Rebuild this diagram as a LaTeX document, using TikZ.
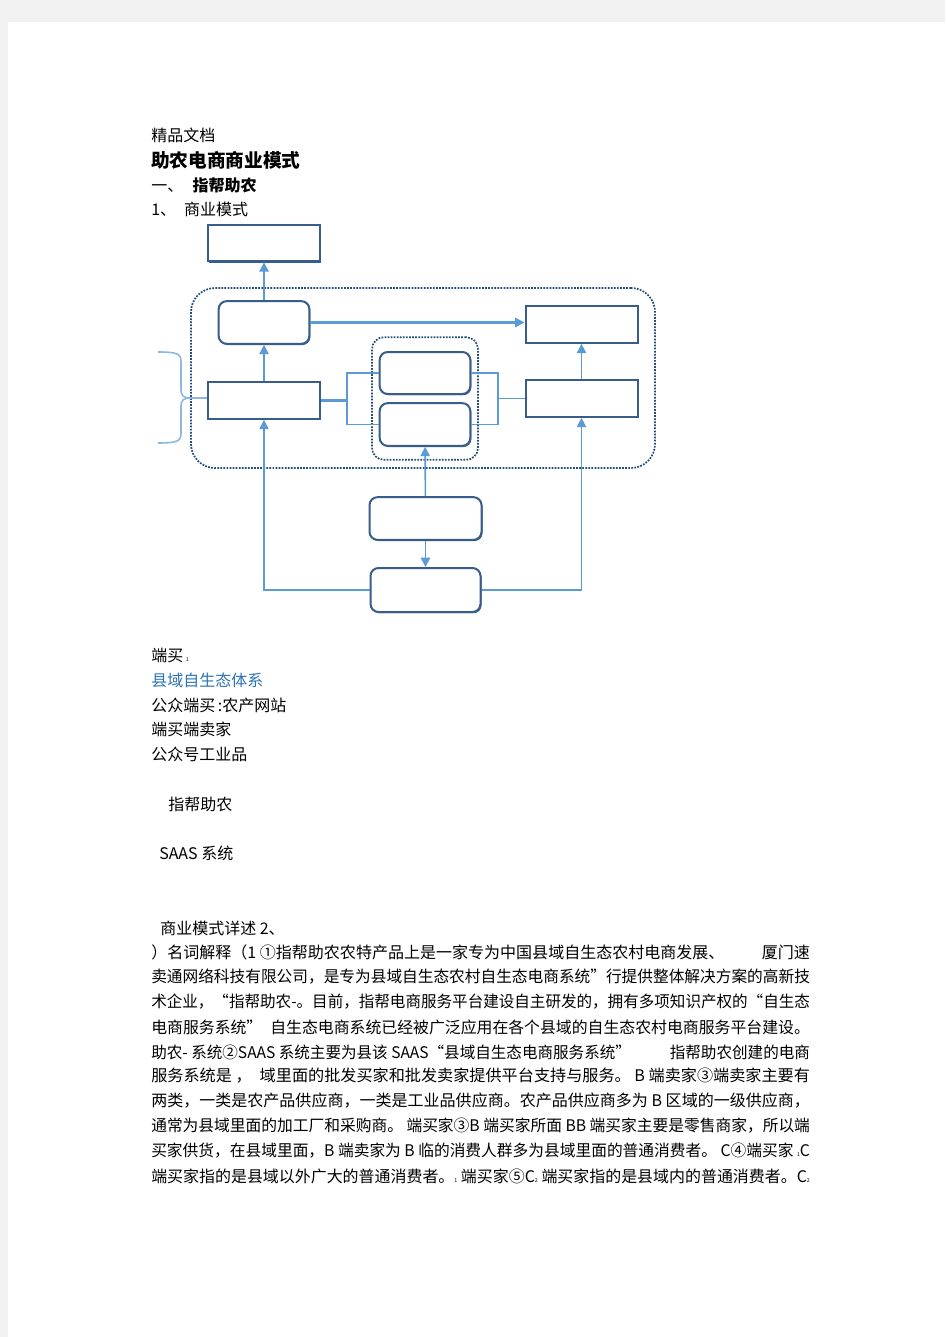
\documentclass[tikz,border=0pt]{standalone}
\usepackage{fontspec}
\usepackage{graphicx}
\setmainfont{Noto Sans CJK SC}
\usetikzlibrary{arrows.meta,shadows}

\definecolor{boxline}{HTML}{385D8A}
\definecolor{navy}{HTML}{1F4E79}
\definecolor{arrowblue}{HTML}{5B9BD5}
\definecolor{bracelight}{HTML}{8DB8E2}
\definecolor{pagegrey}{HTML}{F2F2F2}
\definecolor{textblue}{HTML}{2E74B5}

\tikzstyle{rectbox}=[draw=boxline,line width=1.5pt,fill=white,inner sep=0pt,minimum width=84pt,minimum height=27.5pt,drop shadow={shadow xshift=0.8pt,shadow yshift=-0.9pt,fill=navy,opacity=0.9}]
\tikzstyle{roundbox}=[rectbox,rounded corners=6pt,minimum width=68pt,minimum height=32pt]
\tikzstyle{group}=[draw=navy,densely dotted,line width=1.3pt,inner sep=0pt]
\tikzstyle{link}=[arrowblue,line width=1.2pt]
\tikzstyle{flow}=[link,-{Triangle[length=7pt,width=7pt]}]
\tikzstyle{brace}=[bracelight,line width=1.2pt]
\tikzstyle{line}=[anchor=west,inner sep=0pt,font=\fontsize{12}{15}\selectfont]

\newcommand{\tinynum}[1]{{\fontsize{4}{4}\selectfont #1}}
\newcommand{\jline}[1]{\resizebox{494pt}{\height}{#1}}

\begin{document}
\begin{tikzpicture}[x=0.75pt,y=-0.75pt]
                  \useasboundingbox (0,0) rectangle (945,1337);
                  \fill[pagegrey] (0,0) rectangle (945,1337);
                  \fill[white] (8,22) rectangle (945,1337);

                  % heading
                  \node (doc) at (151,135) [line] {精品文档};
                  \node (title) at (151,160) [line,font=\fontsize{14}{17}\selectfont\bfseries] {助农电商商业模式};
                  \node (sec) at (151,185) [line] {一、\hspace{7pt}{\bfseries 指帮助农}};
                  \node (sub) at (151,209) [line] {1、\hspace{6pt}商业模式};

                  % groups
                  \node (outer) at (423,378) [group,rounded corners=18pt,minimum width=348pt,minimum height=135pt] {};
                  \node (inner) at (425,398.5) [group,rounded corners=9pt,minimum width=79.5pt,minimum height=92pt] {};

                  % boxes
                  \node (A) at (264,243) [rectbox] {};
                  \node (B) at (264,322.5) [roundbox] {};
                  \node (C) at (581.5,324.5) [rectbox] {};
                  \node (D) at (264,400.5) [rectbox] {};
                  \node (F) at (581.5,398.5) [rectbox] {};
                  \node (E1) at (425,373) [roundbox,minimum height=31.5pt] {};
                  \node (E2) at (425,424.5) [roundbox] {};
                  \node (G) at (425.5,518.5) [roundbox,minimum width=84pt] {};
                  \node (H) at (425.5,590) [roundbox,minimum width=82.5pt,minimum height=33pt] {};

                  % arrows
                  \draw [flow] (D) -- (B);
                  \draw [flow] (B) -- (A);
                  \draw [flow,line width=1.5pt] (B.east) -- (B.east -| C.west);
                  \draw [flow] (F) -- (C);
                  \draw [flow] (G) -- (E2);
                  \draw [flow] (G) -- (H);
                  \draw [flow,line width=0.9pt] (H.west) -| (D.south);
                  \draw [flow,line width=0.9pt] (H.east) -| (F.south);

                  % links to the two middle boxes
                  \coordinate (lj) at (347,400.5);
                  \coordinate (rj) at (498,398.5);
                  \draw [link,line width=2.2pt] (D.east) -- (lj);
                  \draw [link] (E1.west) -| (lj) |- (E2.west);
                  \draw [link] (E1.east) -| (rj) |- (E2.east);
                  \draw [link] (rj) -- (F.west);

                  % brace
                  \coordinate (bt) at (158,352);
                  \coordinate (bb) at (158,443);
                  \coordinate (tip) at (190,398);
                  \draw [brace] (bt) .. controls (178,352) and (181,354) .. (181,362) -- (181,390)
                        .. controls (181,396) and (184,398) .. (tip);
                  \draw [brace] (bb) .. controls (178,443) and (181,441) .. (181,433) -- (181,406)
                        .. controls (181,400) and (184,398) .. (tip);
                  \draw [brace] (tip) -- (tip -| D.west);

                  % notes under the picture
                  \node (n1) at (151,655) [line] {端买\,\tinynum{1}};
                  \node (n2) at (151,680) [line,text=textblue] {县域自生态体系};
                  \node (n3) at (151,705) [line] {公众端买\,:农产网站};
                  \node (n4) at (151,729) [line] {端买端卖家};
                  \node (n5) at (151,754) [line] {公众号工业品};
                  \node (n6) at (168,804) [line] {指帮助农};
                  \node (n7) at (159,853) [line] {SAAS 系统};
                  \node (n8) at (160,928) [line] {商业模式详述 2、};

                  % text body
                  \node (p1) at (151,952) [line] {\jline{）名词解释（1 ①指帮助农农特产品上是一家专为中国县域自生态农村电商发展、\hspace{28pt}厦门速}};
                  \node (p2) at (151,977) [line] {\jline{卖通网络科技有限公司，是专为县域自生态农村自生态电商系统”行提供整体解决方案的高新技}};
                  \node (p3) at (151,1002) [line] {\jline{术企业，“指帮助农-。目前，指帮电商服务平台建设自主研发的，拥有多项知识产权的“自生态}};
                  \node (p4) at (151,1027) [line] {\jline{电商服务系统”\hspace{6pt}自生态电商系统已经被广泛应用在各个县域的自生态农村电商服务平台建设。}};
                  \node (p5) at (151,1052) [line] {\jline{助农- 系统②SAAS 系统主要为县该 SAAS“县域自生态电商服务系统”\hspace{30pt}指帮助农创建的电商}};
                  \node (p6) at (151,1076) [line] {\jline{服务系统是 ，\hspace{6pt}域里面的批发买家和批发卖家提供平台支持与服务。 B 端卖家③端卖家主要有}};
                  \node (p7) at (151,1101) [line] {\jline{两类，一类是农产品供应商，一类是工业品供应商。农产品供应商多为 B 区域的一级供应商，}};
                  \node (p8) at (151,1126) [line] {\jline{通常为县域里面的加工厂和采购商。 端买家③B 端买家所面 BB 端买家主要是零售商家，所以端}};
                  \node (p9) at (151,1151) [line] {\jline{买家供货，在县域里面，B 端卖家为 B 临的消费人群多为县域里面的普通消费者。 C④端买家 \tinynum{1}C}};
                  \node (p10) at (151,1176) [line] {\jline{端买家指的是县域以外广大的普通消费者。\tinynum{1} 端买家⑤C\tinynum{2} 端买家指的是县域内的普通消费者。C\tinynum{2}}};
              \end{tikzpicture}
\end{document}
